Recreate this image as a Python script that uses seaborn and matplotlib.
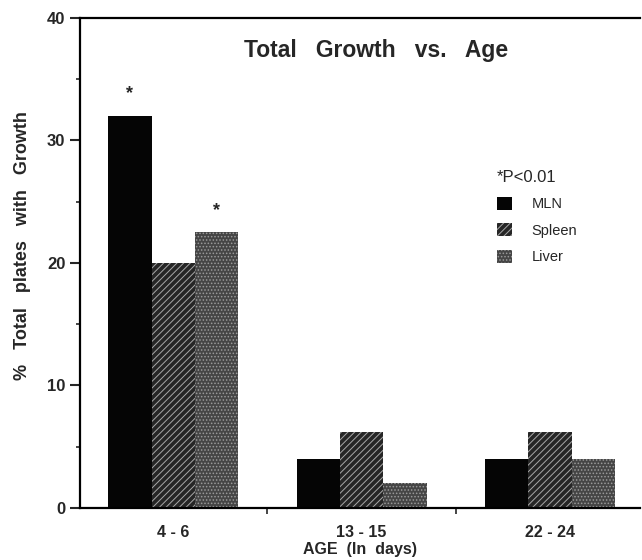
import pandas as pd
import matplotlib
matplotlib.use("Agg")
import matplotlib.pyplot as plt
from matplotlib.patches import Patch
import seaborn as sns

# === Data ===
age_groups = ["4 - 6", "13 - 15", "22 - 24"]
tissues = ["MLN", "Spleen", "Liver"]
mln = [32.0, 4.0, 4.0]
spleen = [20.0, 6.2, 6.2]
liver = [22.5, 2.0, 4.0]
# bars flagged with *P<0.01 (tissue, age group)
significant = [("MLN", "4 - 6"), ("Liver", "4 - 6")]

df = pd.DataFrame({
    "age": age_groups * 3,
    "tissue": [t for t in tissues for _ in age_groups],
    "pct": mln + spleen + liver,
})

# === Style ===
sns.set_theme(style="ticks")
plt.rcParams["font.family"] = ["Liberation Sans", "DejaVu Sans"]
plt.rcParams["hatch.linewidth"] = 0.7

fills = {"MLN": "#050505", "Spleen": "#262626", "Liver": "#454545"}
hatches = {"MLN": None, "Spleen": "/////", "Liver": "....."}
hatch_cols = {"MLN": "#050505", "Spleen": "#a8a8a8", "Liver": "#9a9a9a"}

fig = plt.figure(figsize=(6.42, 5.60), dpi=100)
ax = fig.add_axes([0.1246, 0.0929, 0.873, 0.875])

sns.barplot(data=df, x="age", y="pct", hue="tissue", order=age_groups,
            hue_order=tissues, width=0.69, gap=0, palette=fills,
            saturation=1, legend=False, ax=ax)

for tissue, cont in zip(tissues, ax.containers):
    for bar in cont:
        bar.set_hatch(hatches[tissue])
        bar.set_edgecolor(hatch_cols[tissue])
        bar.set_linewidth(0)

# significance stars
for tissue, age in significant:
    bar = ax.containers[tissues.index(tissue)][age_groups.index(age)]
    ax.text(bar.get_x() + bar.get_width() / 2, bar.get_height() + 1.8, "*",
            ha="center", va="center", fontsize=13, fontweight="bold")

# === Axes ===
ax.set_xlim(-0.495, 2.48)
ax.set_ylim(0, 40)
ax.set_yticks([0, 10, 20, 30, 40])
ax.set_yticks([5, 15, 25, 35], minor=True)
ax.set_xticks([0.5, 1.5], minor=True)
ax.tick_params(axis="y", which="major", direction="out", length=7, width=1.5,
               labelsize=12)
ax.tick_params(axis="y", which="minor", direction="out", length=3, width=1.2)
ax.tick_params(axis="x", which="major", length=0, pad=12, labelsize=11.5)
ax.tick_params(axis="x", which="minor", direction="out", length=4, width=1.2)
for lab in ax.get_xticklabels() + ax.get_yticklabels():
    lab.set_fontweight("bold")

for side in ["left", "bottom", "top"]:
    ax.spines[side].set_linewidth(1.6)
    ax.spines[side].set_color("black")
ax.spines["right"].set_visible(False)

ax.set_xlabel("AGE  (In  days)", fontsize=11.5, fontweight="bold", labelpad=2)
ax.set_ylabel("%   Total   plates   with   Growth", fontsize=13,
              fontweight="bold")
ax.yaxis.set_label_coords(-0.088, 0.535)
ax.text(0.529, 0.933, "Total   Growth   vs.   Age", transform=ax.transAxes,
        ha="center", va="center", fontsize=16.5, fontweight="bold")

handles = [Patch(facecolor=fills[t], edgecolor=hatch_cols[t], hatch=hatches[t],
                 linewidth=0) for t in tissues]
leg = ax.legend(handles, tissues, title="*P<0.01", loc="upper left",
                bbox_to_anchor=(497 / 642, 1 - 170 / 560),
                bbox_transform=fig.transFigure, frameon=False, fontsize=10.5,
                title_fontsize=12, handlelength=1.05, handleheight=1.0,
                handletextpad=1.3, labelspacing=0.82, borderpad=0,
                borderaxespad=0, alignment="left")

fig.savefig("out.png", dpi=100)
